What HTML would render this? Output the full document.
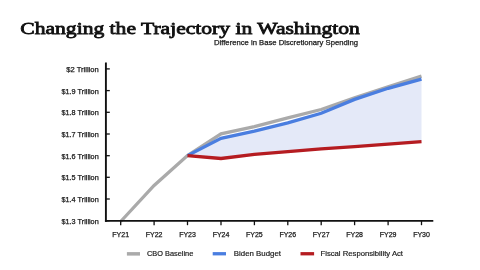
<!DOCTYPE html>
<html><head><meta charset="utf-8">
<style>
html,body{margin:0;padding:0;background:#fff;width:480px;height:270px;overflow:hidden}
svg{display:block;will-change:transform}
.s{font-family:"Liberation Sans",sans-serif;fill:#1a1a1a;stroke:#1a1a1a;stroke-width:0.25}
.t{font-family:"Liberation Serif",serif;fill:#111;stroke:#111;stroke-width:0.8}
</style></head><body>
<svg width="480" height="270" viewBox="0 0 480 270">
<text class="t" x="20.3" y="34.2" font-size="17.6" textLength="339.5" lengthAdjust="spacingAndGlyphs">Changing the Trajectory in Washington</text>
<text class="s" x="214" y="44.6" font-size="7" textLength="144" lengthAdjust="spacingAndGlyphs">Difference in Base Discretionary Spending</text>

<polygon fill="#e4e9f8" points="187.5,155.6 221.0,138.4 254.4,131.1 287.8,122.8 321.2,113.3 354.6,99.4 388.1,88.3 421.5,79.1 421.5,141.7 388.1,144.1 354.6,146.7 321.2,148.9 287.8,151.7 254.4,154.4 221.0,158.5 187.5,155.6"/>
<polyline fill="none" stroke="#aaaaaa" stroke-width="3.3" stroke-linejoin="miter" points="120.7,221.5 154.1,185.4 187.5,155.6 221.0,133.8 254.4,126.6 287.8,117.8 321.2,109.5 354.6,97.8 388.1,86.7 421.5,76.1"/>
<polyline fill="none" stroke="#4a7ee0" stroke-width="3.3" points="187.5,155.6 221.0,138.4 254.4,131.1 287.8,122.8 321.2,113.3 354.6,99.4 388.1,88.3 421.5,79.1"/>
<polyline fill="none" stroke="#b51c21" stroke-width="3.3" points="187.5,155.6 221.0,158.5 254.4,154.4 287.8,151.7 321.2,148.9 354.6,146.7 388.1,144.1 421.5,141.7"/>

<g stroke="#111" stroke-width="1.9" fill="none">
<line x1="105.9" y1="62.5" x2="105.9" y2="221.85"/>
<line x1="104.95" y1="220.9" x2="433.3" y2="220.9"/>
</g>
<g stroke="#111" stroke-width="1.3">
<line x1="105.9" y1="68.9" x2="109.8" y2="68.9"/>
<line x1="105.9" y1="90.6" x2="109.8" y2="90.6"/>
<line x1="105.9" y1="112.3" x2="109.8" y2="112.3"/>
<line x1="105.9" y1="134.0" x2="109.8" y2="134.0"/>
<line x1="105.9" y1="155.7" x2="109.8" y2="155.7"/>
<line x1="105.9" y1="177.3" x2="109.8" y2="177.3"/>
<line x1="105.9" y1="199.0" x2="109.8" y2="199.0"/>
<line x1="105.9" y1="220.9" x2="109.8" y2="220.7"/>
<line x1="120.7" y1="220.9" x2="120.7" y2="225.2"/>
<line x1="154.1" y1="220.9" x2="154.1" y2="225.2"/>
<line x1="187.5" y1="220.9" x2="187.5" y2="225.2"/>
<line x1="221.0" y1="220.9" x2="221.0" y2="225.2"/>
<line x1="254.4" y1="220.9" x2="254.4" y2="225.2"/>
<line x1="287.8" y1="220.9" x2="287.8" y2="225.2"/>
<line x1="321.2" y1="220.9" x2="321.2" y2="225.2"/>
<line x1="354.6" y1="220.9" x2="354.6" y2="225.2"/>
<line x1="388.1" y1="220.9" x2="388.1" y2="225.2"/>
<line x1="421.5" y1="220.9" x2="421.5" y2="225.2"/>
</g>
<g class="s" font-size="7" text-anchor="end">
<text x="98.7" y="72" textLength="32.4" lengthAdjust="spacingAndGlyphs">$2 Trillion</text>
<text x="98.7" y="93.7" textLength="37.2" lengthAdjust="spacingAndGlyphs">$1.9 Trillion</text>
<text x="98.7" y="115.4" textLength="37.2" lengthAdjust="spacingAndGlyphs">$1.8 Trillion</text>
<text x="98.7" y="137.1" textLength="37.2" lengthAdjust="spacingAndGlyphs">$1.7 Trillion</text>
<text x="98.7" y="158.8" textLength="37.2" lengthAdjust="spacingAndGlyphs">$1.6 Trillion</text>
<text x="98.7" y="180.4" textLength="37.2" lengthAdjust="spacingAndGlyphs">$1.5 Trillion</text>
<text x="98.7" y="202.1" textLength="37.2" lengthAdjust="spacingAndGlyphs">$1.4 Trillion</text>
<text x="98.7" y="223.8" textLength="37.2" lengthAdjust="spacingAndGlyphs">$1.3 Trillion</text>
</g>
<g class="s" font-size="7" text-anchor="middle">
<text x="120.7" y="236.7">FY21</text>
<text x="154.1" y="236.7">FY22</text>
<text x="187.5" y="236.7">FY23</text>
<text x="221.0" y="236.7">FY24</text>
<text x="254.4" y="236.7">FY25</text>
<text x="287.8" y="236.7">FY26</text>
<text x="321.2" y="236.7">FY27</text>
<text x="354.6" y="236.7">FY28</text>
<text x="388.1" y="236.7">FY29</text>
<text x="421.5" y="236.7">FY30</text>
</g>
<rect x="126.9" y="252.1" width="13.1" height="3.5" fill="#aaaaaa"/>
<rect x="212.7" y="252.1" width="13.3" height="3.3" fill="#4a7ee0"/>
<rect x="300.5" y="252.1" width="13.6" height="3.3" fill="#b51c21"/>
<g class="s" font-size="7" style="stroke-width:0.18">
<text x="147" y="256.2" textLength="46.3" lengthAdjust="spacingAndGlyphs">CBO Baseline</text>
<text x="233.8" y="256.2" textLength="47.2" lengthAdjust="spacingAndGlyphs">Biden Budget</text>
<text x="320.5" y="256.2" textLength="82.5" lengthAdjust="spacingAndGlyphs">Fiscal Responsibility Act</text>
</g>
</svg>
</body></html>
